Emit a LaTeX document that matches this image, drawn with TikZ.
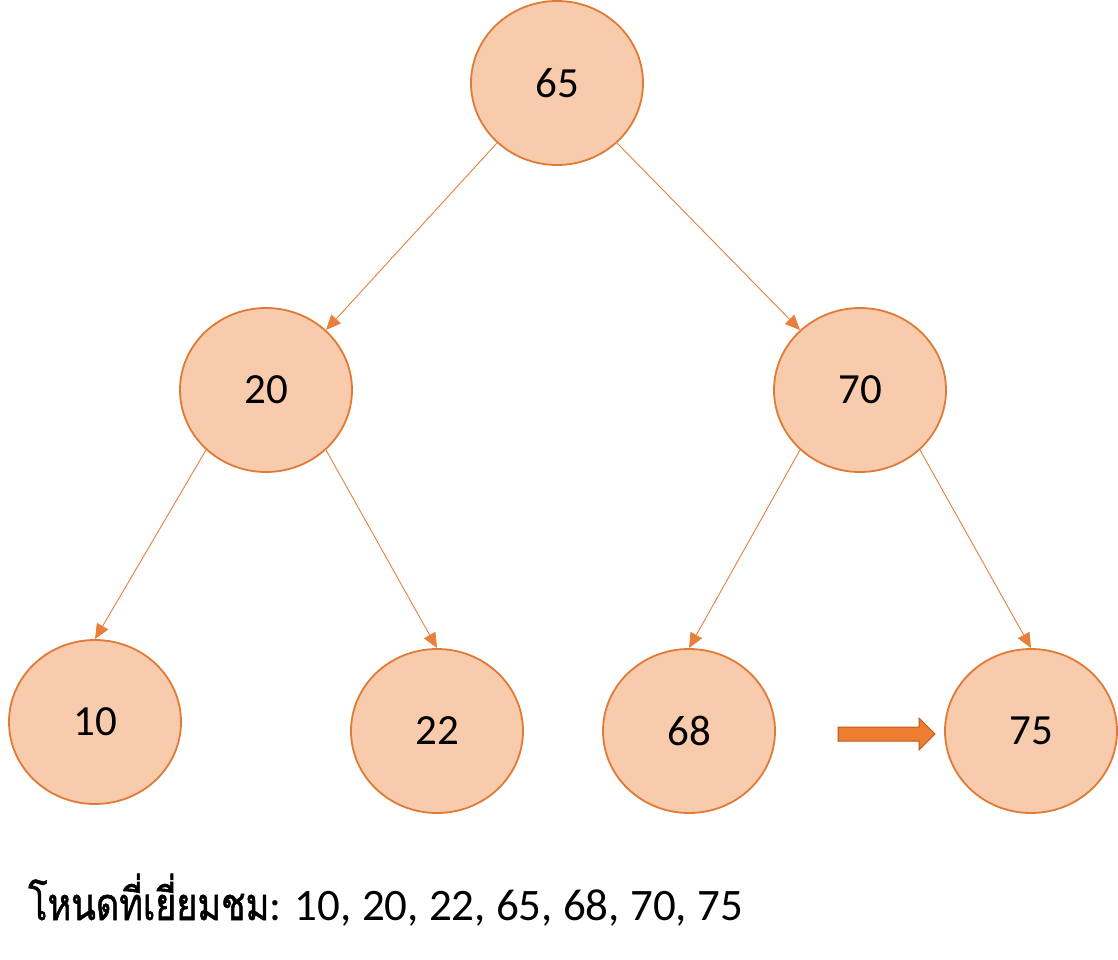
\documentclass[tikz,border=0pt]{standalone}
\usepackage{fontspec}
\setmainfont{Carlito}
\newfontfamily\thaifont[Script=Thai,FakeStretch=0.8,FakeBold=1.2]{Loma}
\usetikzlibrary{arrows.meta,shapes.geometric}
\definecolor{nodefill}{HTML}{F8CBAD}
\definecolor{nodeline}{HTML}{E07A35}
\definecolor{edgecol}{HTML}{E8803D}
\definecolor{blockfill}{HTML}{ED7D31}
\definecolor{blockline}{HTML}{B85A1E}
\tikzset{
  treenode/.style={ellipse, draw=nodeline, fill=nodefill, line width=1.8pt,
    minimum width=172pt, minimum height=164pt, inner sep=0pt,
    font=\fontsize{43}{50}\selectfont},
  treeedge/.style={draw=edgecol, line width=0.9pt,
    -{Triangle[length=15pt,width=13pt]}},
  caption/.style={anchor=base west, inner sep=0pt, font=\fontsize{45}{52}\selectfont}
}
\begin{document}
\begin{tikzpicture}[x=1pt,y=-1pt]
\useasboundingbox (0,0) rectangle (1118,960);
\fill[white] (0,0) rectangle (1118,960);
\node[treenode] (n65) at (557,83) {65};
\node[treenode] (n20) at (266,390) {20};
\node[treenode] (n70) at (860,390) {70};
\node[treenode] (n10) at (95,722) {10};
\node[treenode] (n22) at (437,731) {22};
\node[treenode] (n68) at (689,731) {68};
\node[treenode] (n75) at (1031,731) {75};
\draw[treeedge] (n65.225) -- (n20.45);
\draw[treeedge] (n65.315) -- (n70.135);
\draw[treeedge] (n20.225) -- (n10.north);
\draw[treeedge] (n20.315) -- (n22.north);
\draw[treeedge] (n70.225) -- (n68.north);
\draw[treeedge] (n70.315) -- (n75.north);
\draw[fill=blockfill, draw=blockline, line width=1pt]
  (838,727) -- (919,727) -- (919,718) -- (935,734) -- (919,750) -- (919,741) -- (838,741) -- cycle;
\node[caption] (cap) at (28,920) {{\thaifont โหนดที่เยี่ยมชม}: 10, 20, 22, 65, 68, 70, 75};
\end{tikzpicture}
\end{document}
